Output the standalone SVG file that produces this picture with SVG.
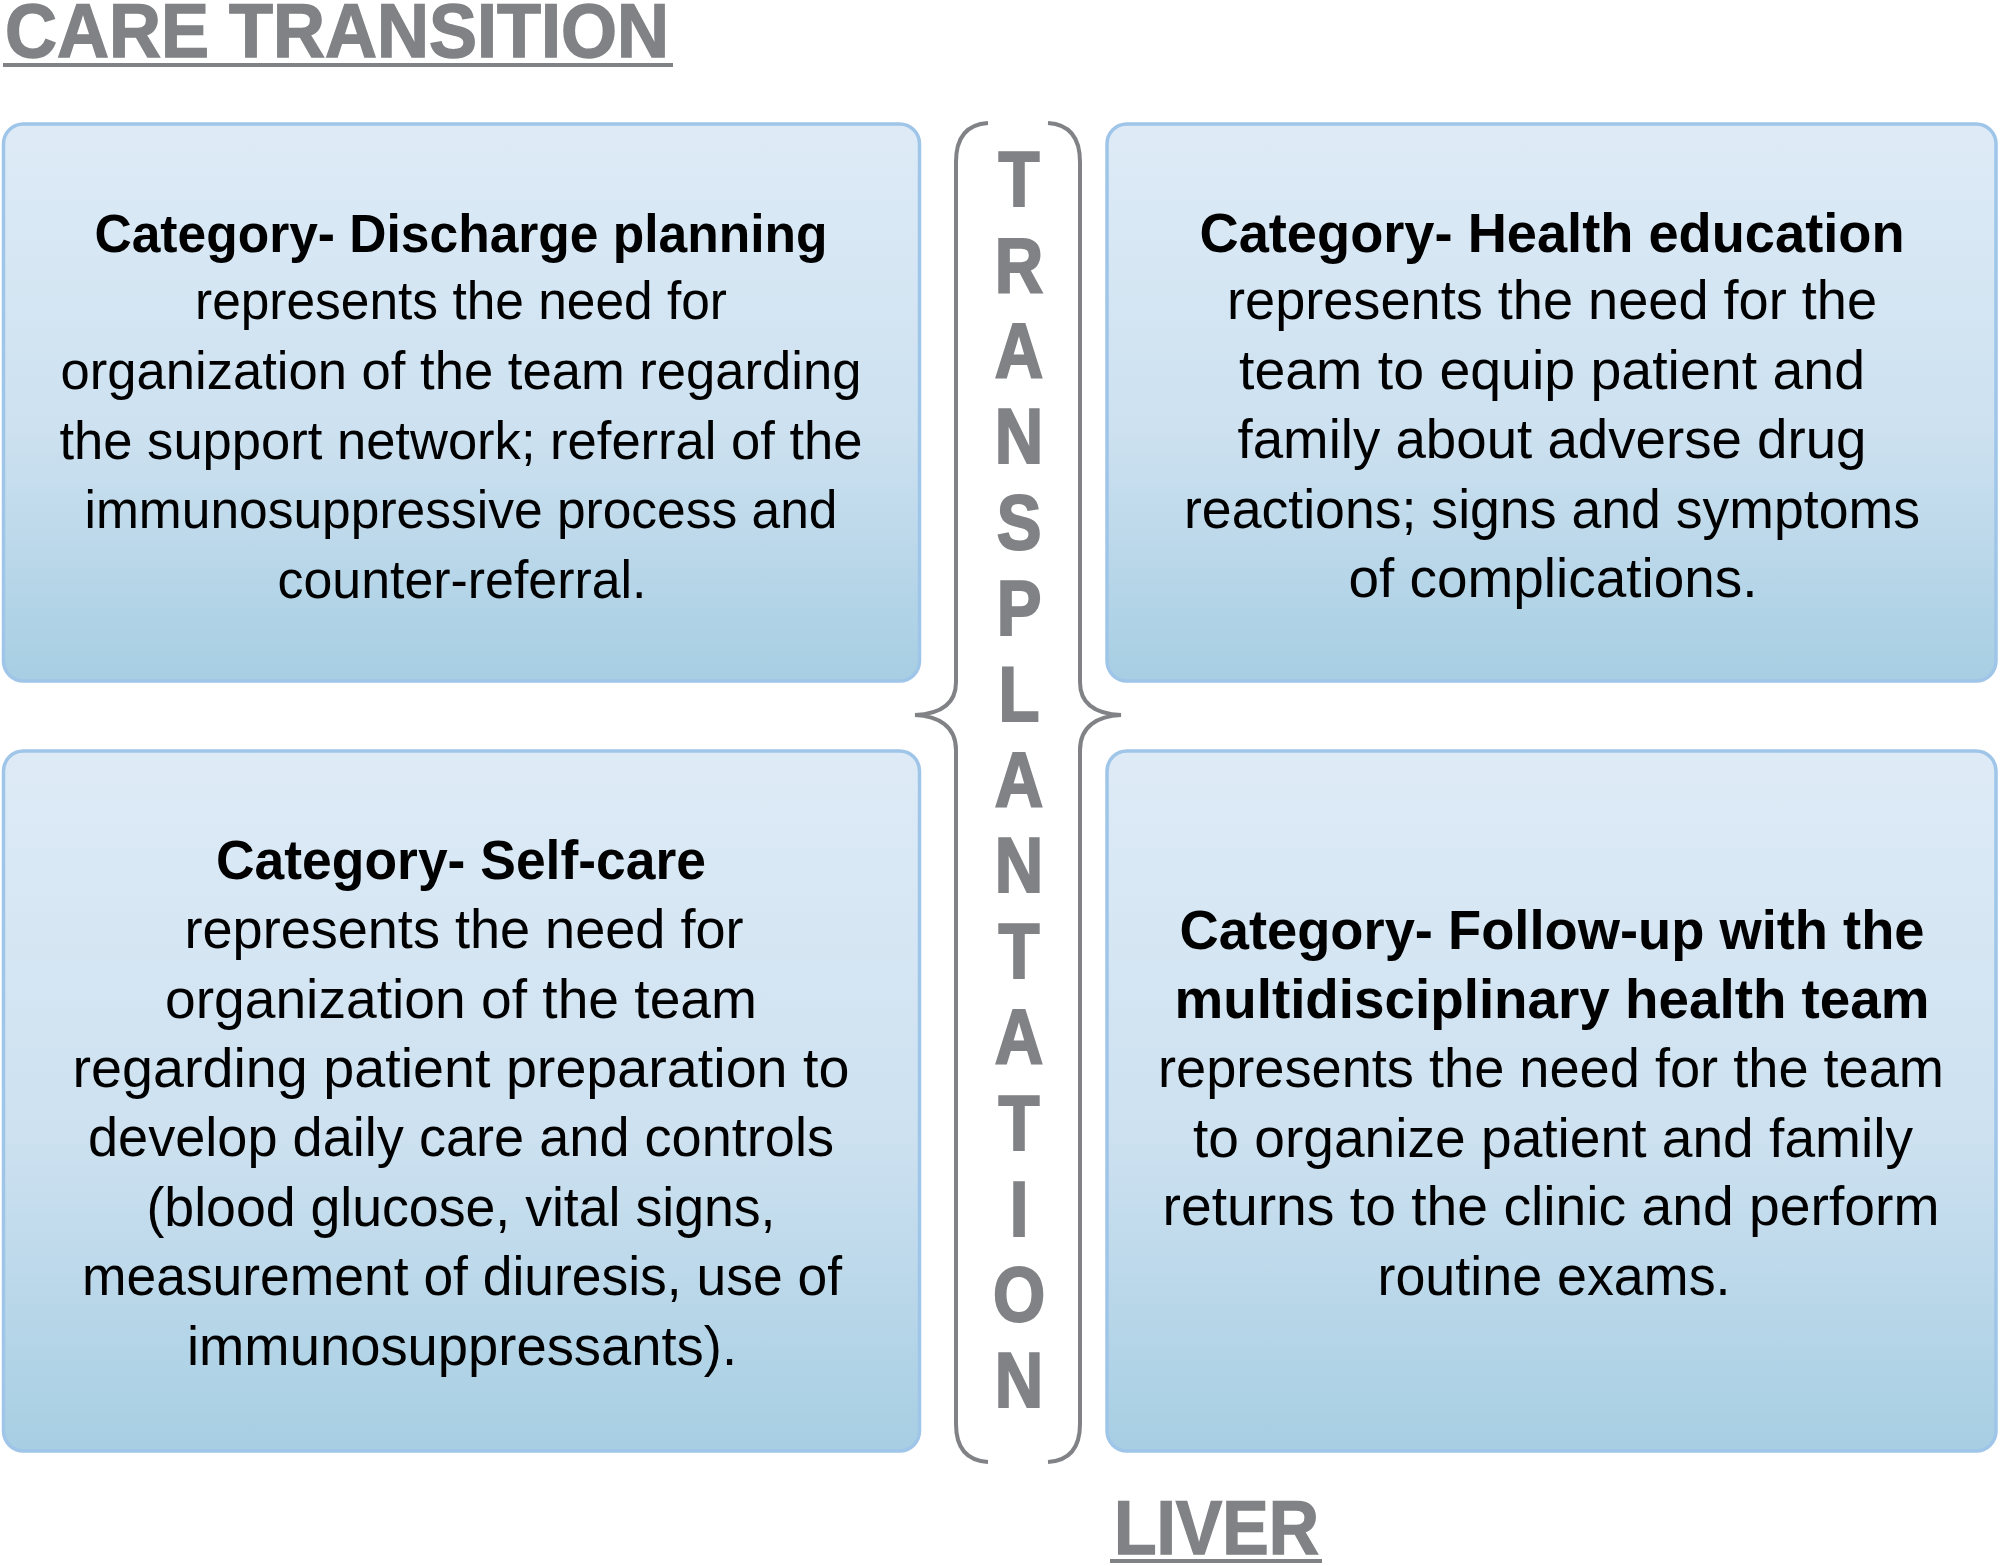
<svg xmlns="http://www.w3.org/2000/svg" width="2000" height="1566" viewBox="0 0 2000 1566">
<style>
.hdr{font-family:"Liberation Sans",Arial,sans-serif;font-weight:bold;font-size:76px;fill:#808285;stroke:#808285;stroke-width:1.5}
.ltr{font-family:"Liberation Sans",Arial,sans-serif;font-weight:bold;font-size:78px;fill:#808285;stroke:#808285;stroke-width:2.2;text-anchor:middle}
.box{stroke:#9fc5e8;stroke-width:3.5;fill:url(#g)}
.t{font-family:"Liberation Sans",Arial,sans-serif;fill:#000;text-anchor:middle}
.b{font-weight:bold}
.s53{font-size:53px}.s55{font-size:55px}.s56{font-size:56px}
.br{fill:none;stroke:#808285;stroke-width:4}
</style>
<defs>
<linearGradient id="g" x1="0" y1="0" x2="0" y2="1">
<stop offset="0" stop-color="#deebf7"/>
<stop offset="0.55" stop-color="#cde1f0"/>
<stop offset="1" stop-color="#a7cee3"/>
</linearGradient>
</defs>
<rect width="2000" height="1566" fill="#fff"/>
<g id="title-care">
<text class="hdr" x="5" y="57" textLength="664" lengthAdjust="spacingAndGlyphs">CARE TRANSITION</text>
<rect x="3" y="63" width="670" height="4" fill="#808285"/>
</g>
<g id="title-liver">
<text class="hdr" x="1114" y="1554" textLength="205" lengthAdjust="spacingAndGlyphs">LIVER</text>
<rect x="1110" y="1559" width="212" height="4" fill="#808285"/>
</g>
<g id="connectors">
<path class="br" d="M988,123 Q956,125 956,162 L956,682 C956,706 938,714 915,715 C938,716 956,726 956,750 L956,1424 Q956,1460 988,1462"/>
<path class="br" d="M1048,123 Q1080,125 1080,162 L1080,682 C1080,706 1098,714 1121,715 C1098,716 1080,726 1080,750 L1080,1424 Q1080,1460 1048,1462"/>
</g>
<g id="transplantation" transform="translate(1019 0) scale(0.86 1)">
<text class="ltr" x="0" y="206">T</text>
<text class="ltr" x="0" y="291.8">R</text>
<text class="ltr" x="0" y="377.6">A</text>
<text class="ltr" x="0" y="463.4">N</text>
<text class="ltr" x="0" y="549.2">S</text>
<text class="ltr" x="0" y="635">P</text>
<text class="ltr" x="0" y="720.8">L</text>
<text class="ltr" x="0" y="806.6">A</text>
<text class="ltr" x="0" y="892.4">N</text>
<text class="ltr" x="0" y="978.2">T</text>
<text class="ltr" x="0" y="1064">A</text>
<text class="ltr" x="0" y="1149.8">T</text>
<text class="ltr" x="0" y="1235.6">I</text>
<text class="ltr" x="0" y="1321.4">O</text>
<text class="ltr" x="0" y="1407.2">N</text>
</g>
<g id="node-discharge">
<rect class="box" x="3.5" y="124" width="916" height="557" rx="20"/>
<g class="t s53">
<text class="b" x="461" y="252" textLength="733" lengthAdjust="spacingAndGlyphs">Category- Discharge planning</text>
<text x="461" y="319" textLength="532" lengthAdjust="spacingAndGlyphs">represents the need for</text>
<text x="461" y="389" textLength="801" lengthAdjust="spacingAndGlyphs">organization of the team regarding</text>
<text x="461" y="459" textLength="803" lengthAdjust="spacingAndGlyphs">the support network; referral of the</text>
<text x="461" y="528" textLength="753" lengthAdjust="spacingAndGlyphs">immunosuppressive process and</text>
<text x="462" y="598" textLength="369" lengthAdjust="spacingAndGlyphs">counter-referral.</text>
</g>
</g>
<g id="node-health-education">
<rect class="box" x="1107" y="124" width="889" height="557" rx="20"/>
<g class="t s55">
<text class="b" x="1552" y="252" textLength="705" lengthAdjust="spacingAndGlyphs">Category- Health education</text>
<text x="1552" y="319" textLength="650" lengthAdjust="spacingAndGlyphs">represents the need for the</text>
<text x="1552" y="389" textLength="626" lengthAdjust="spacingAndGlyphs">team to equip patient and</text>
<text x="1552" y="458" textLength="629" lengthAdjust="spacingAndGlyphs">family about adverse drug</text>
<text x="1552" y="528" textLength="736" lengthAdjust="spacingAndGlyphs">reactions; signs and symptoms</text>
<text x="1553" y="597" textLength="409" lengthAdjust="spacingAndGlyphs">of complications.</text>
</g>
</g>
<g id="node-self-care">
<rect class="box" x="3.5" y="751" width="916" height="700" rx="20"/>
<g class="t s56">
<text class="b" x="461" y="879" textLength="490" lengthAdjust="spacingAndGlyphs">Category- Self-care</text>
<text x="464" y="948" textLength="559" lengthAdjust="spacingAndGlyphs">represents the need for</text>
<text x="461" y="1018" textLength="592" lengthAdjust="spacingAndGlyphs">organization of the team</text>
<text x="461" y="1087" textLength="777" lengthAdjust="spacingAndGlyphs">regarding patient preparation to</text>
<text x="461" y="1156" textLength="746" lengthAdjust="spacingAndGlyphs">develop daily care and controls</text>
<text x="461" y="1226" textLength="629" lengthAdjust="spacingAndGlyphs">(blood glucose, vital signs,</text>
<text x="462" y="1295" textLength="760" lengthAdjust="spacingAndGlyphs">measurement of diuresis, use of</text>
<text x="462" y="1365" textLength="550" lengthAdjust="spacingAndGlyphs">immunosuppressants).</text>
</g>
</g>
<g id="node-follow-up">
<rect class="box" x="1107" y="751" width="889" height="700" rx="20"/>
<g class="t s55">
<text class="b" x="1552" y="949" textLength="745" lengthAdjust="spacingAndGlyphs">Category- Follow-up with the</text>
<text class="b" x="1552" y="1018" textLength="755" lengthAdjust="spacingAndGlyphs">multidisciplinary health team</text>
<text x="1551" y="1087" textLength="786" lengthAdjust="spacingAndGlyphs">represents the need for the team</text>
<text x="1553" y="1157" textLength="720" lengthAdjust="spacingAndGlyphs">to organize patient and family</text>
<text x="1551" y="1225" textLength="777" lengthAdjust="spacingAndGlyphs">returns to the clinic and perform</text>
<text x="1554" y="1295" textLength="353" lengthAdjust="spacingAndGlyphs">routine exams.</text>
</g>
</g>
</svg>
